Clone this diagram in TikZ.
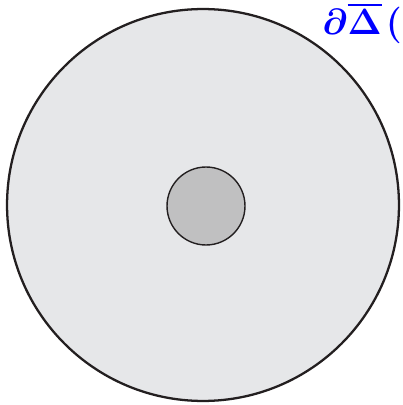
\documentclass[tikz,border=0pt]{standalone}
\usepackage{amsmath,amssymb}
\usepackage{bm}
\usepackage{xcolor}
\usepackage{tikz}
\usetikzlibrary{
  positioning,
  calc
}
\definecolor{diskgray}{RGB}{230,231,233}
\definecolor{holegray}{RGB}{192,192,193}
\definecolor{rimblack}{RGB}{35,31,32}
\definecolor{labelblue}{RGB}{0,0,255}
\tikzset{
  outerdisk/.style={
    circle,
    draw=rimblack,
    fill=diskgray,
    line width=1.3pt,
    inner sep=0pt
  },
  innerdisk/.style={
    circle,
    draw=rimblack,
    fill=holegray,
    line width=0.8pt,
    inner sep=0pt
  },
  bdrylabel/.style={text=labelblue,font=\huge,inner sep=0pt}
}

\begin{document}
\begin{tikzpicture}[x=0.02cm,y=-0.02cm]
  % frame of the picture
  \clip (0,0) rectangle (402,405);
  % disks
  \node[outerdisk,minimum size=7.84cm] (disk) at (203,205) {};
  \node[innerdisk,minimum size=1.56cm] (hole) at (206,206) {};
  % boundary label, cut at the right edge
  \node[bdrylabel,anchor=base west] (lbl) at (322,35) {$\bm{\partial\overline{\Delta}\mkern2mu(}$};
\end{tikzpicture}
\end{document}
